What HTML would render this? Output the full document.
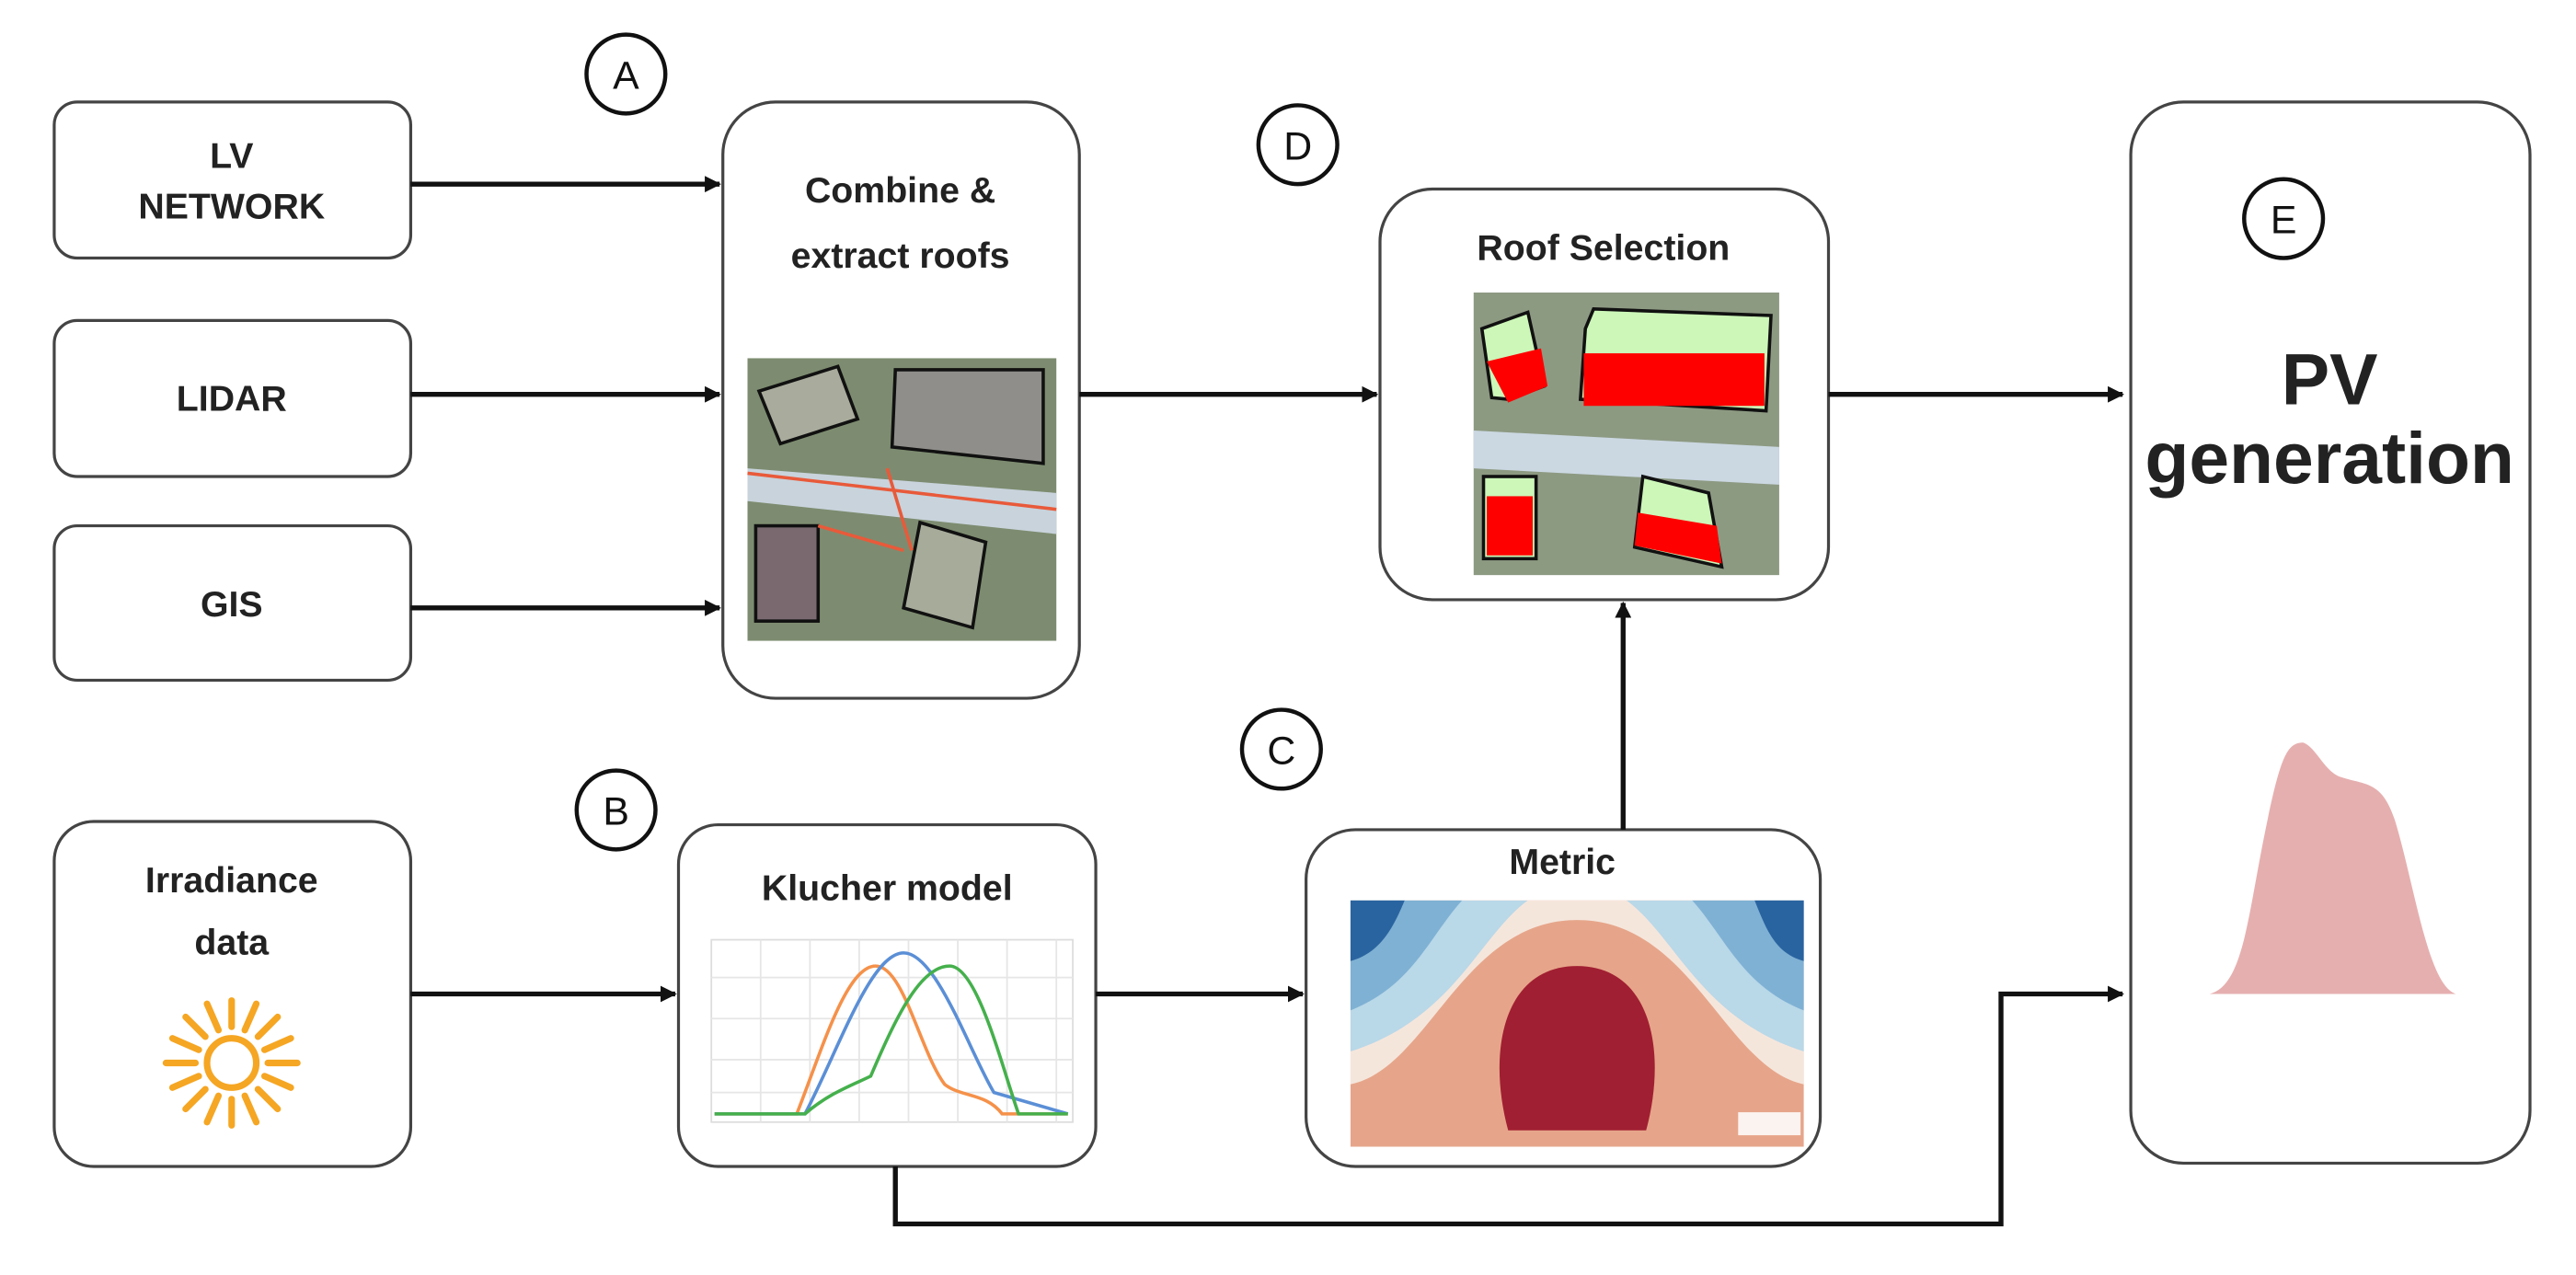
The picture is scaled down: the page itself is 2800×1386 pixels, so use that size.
<!DOCTYPE html>
<html><head><meta charset="utf-8"><style>html,body{margin:0;padding:0;background:#fff}svg{display:block}</style></head>
<body>
<svg width="2800" height="1386" viewBox="0 0 1568 776" xmlns="http://www.w3.org/2000/svg" font-family="'Liberation Sans', 'DejaVu Sans', sans-serif">
<defs>
<marker id="ar" markerWidth="10" markerHeight="10" refX="9" refY="5" orient="auto" markerUnits="userSpaceOnUse"><path d="M0,0 L10,5 L0,10 z" fill="#111"/></marker>
</defs>
<g fill="#fff" stroke="#444" stroke-width="1.8">
<rect x="33" y="62" width="217" height="95" rx="14"/>
<rect x="33" y="195" width="217" height="95" rx="14"/>
<rect x="33" y="320" width="217" height="94" rx="14"/>
<rect x="440" y="62" width="217" height="363" rx="32"/>
<rect x="840" y="115" width="273" height="250" rx="32"/>
<rect x="1297" y="62" width="243" height="646" rx="32"/>
<rect x="33" y="500" width="217" height="210" rx="24"/>
<rect x="413" y="502" width="254" height="208" rx="24"/>
<rect x="795" y="505" width="313" height="205" rx="30"/>
</g>
<g fill="#fff" stroke="#111" stroke-width="2.5">
<circle cx="381" cy="45" r="24"/><circle cx="790" cy="88" r="24"/><circle cx="1390" cy="133" r="24"/>
<circle cx="780" cy="456" r="24"/><circle cx="375" cy="493" r="24"/>
</g>
<g font-size="24" text-anchor="middle" fill="#111">
<text x="381" y="54">A</text><text x="790" y="97">D</text><text x="1390" y="142">E</text>
<text x="780" y="465">C</text><text x="375" y="502">B</text>
</g>
<g font-size="22" text-anchor="middle" fill="#222" font-weight="bold">
<text x="141" y="102">LV</text><text x="141" y="133">NETWORK</text>
<text x="141" y="250">LIDAR</text>
<text x="141" y="375">GIS</text>
<text x="548" y="123">Combine &amp;</text><text x="548" y="163">extract roofs</text>
<text x="976" y="158">Roof Selection</text>
<text x="141" y="543">Irradiance</text><text x="141" y="581">data</text>
<text x="540" y="548">Klucher model</text>
<text x="951" y="532">Metric</text>
</g>
<g font-size="44" text-anchor="middle" fill="#222" font-weight="bold">
<text x="1418" y="246">PV</text><text x="1418" y="294">generation</text>
</g>
<g stroke="#111" stroke-width="3" fill="none" marker-end="url(#ar)">
<line x1="250" y1="112" x2="438" y2="112"/>
<line x1="250" y1="240" x2="438" y2="240"/>
<line x1="250" y1="370" x2="438" y2="370"/>
<line x1="657" y1="240" x2="838" y2="240"/>
<line x1="1113" y1="240" x2="1292" y2="240"/>
<line x1="250" y1="605" x2="411" y2="605"/>
<line x1="667" y1="605" x2="793" y2="605"/>
<line x1="988" y1="505" x2="988" y2="367"/>
<polyline points="545,710 545,745 1218,745 1218,605 1292,605"/>
</g>
<!-- combine image -->
<g>
<rect x="455" y="218" width="188" height="172" fill="#7d8c70"/>
<polygon points="455,285 643,300 643,325 455,305" fill="#c8d3dc"/>
<polygon points="462,238 510,223 522,255 475,270" fill="#a9ab9c" stroke="#111" stroke-width="2"/>
<polygon points="545,225 635,225 635,282 543,272" fill="#8f8e8a" stroke="#111" stroke-width="2"/>
<rect x="460" y="320" width="38" height="58" fill="#7a6a70" stroke="#111" stroke-width="2"/>
<polygon points="560,318 600,330 592,382 550,370" fill="#a7ab9a" stroke="#111" stroke-width="2"/>
<line x1="455" y1="288" x2="643" y2="310" stroke="#e85a3a" stroke-width="2"/>
<line x1="540" y1="285" x2="555" y2="335" stroke="#e85a3a" stroke-width="2"/>
<line x1="498" y1="320" x2="550" y2="335" stroke="#e85a3a" stroke-width="2"/>
</g>
<!-- roof selection image -->
<g>
<rect x="897" y="178" width="186" height="172" fill="#8d9a82"/>
<polygon points="897,262 1083,272 1083,295 897,285" fill="#cbd8e2"/>
<polygon points="902,200 930,190 940,235 918,243 908,242" fill="#ccf7b8" stroke="#111" stroke-width="2"/>
<polygon points="905,220 938,212 942,235 918,245" fill="#f00"/>
<polygon points="965,200 970,188 1078,192 1075,250 962,243" fill="#ccf7b8" stroke="#111" stroke-width="2"/>
<rect x="964" y="215" width="110" height="32" fill="#f00"/>
<rect x="903" y="290" width="32" height="50" fill="#ccf7b8" stroke="#111" stroke-width="2"/>
<rect x="905" y="302" width="28" height="36" fill="#f00"/>
<polygon points="1000,290 1040,300 1048,345 995,333" fill="#ccf7b8" stroke="#111" stroke-width="2"/>
<polygon points="997,312 1045,320 1048,343 995,332" fill="#f00"/>
</g>
<!-- klucher chart -->
<g>
<rect x="433" y="572" width="220" height="111" fill="#fff" stroke="#ddd"/>
<g stroke="#e6e6e6" stroke-width="1">
<line x1="463" y1="572" x2="463" y2="683"/><line x1="493" y1="572" x2="493" y2="683"/><line x1="523" y1="572" x2="523" y2="683"/><line x1="553" y1="572" x2="553" y2="683"/><line x1="583" y1="572" x2="583" y2="683"/><line x1="613" y1="572" x2="613" y2="683"/><line x1="643" y1="572" x2="643" y2="683"/>
<line x1="433" y1="595" x2="653" y2="595"/><line x1="433" y1="620" x2="653" y2="620"/><line x1="433" y1="645" x2="653" y2="645"/><line x1="433" y1="665" x2="653" y2="665"/>
</g>
<path d="M435,678 L485,678 C500,640 515,588 533,588 C550,588 560,640 575,660 C585,668 600,665 610,678 L650,678" fill="none" stroke="#f5914a" stroke-width="2"/>
<path d="M435,678 L490,678 C510,640 530,580 550,580 C570,580 590,640 605,665 L650,678" fill="none" stroke="#5b8fd6" stroke-width="2"/>
<path d="M435,678 L490,678 C505,665 520,660 530,655 C545,620 560,588 578,588 C595,588 610,650 620,678 L650,678" fill="none" stroke="#45b04c" stroke-width="2"/>
</g>
<!-- metric contour -->
<g>
<clipPath id="mc"><rect x="822" y="548" width="276" height="150"/></clipPath>
<g clip-path="url(#mc)">
<rect x="822" y="548" width="276" height="150" fill="#e6a58a"/>
<path d="M822,548 L1098,548 L1098,660 C1050,650 1030,560 960,560 C890,560 870,650 822,660 Z" fill="#f5e6dc"/>
<path d="M822,548 L930,548 C900,570 885,620 822,640 Z" fill="#b9d8e8"/>
<path d="M1098,548 L990,548 C1020,570 1035,620 1098,640 Z" fill="#b9d8e8"/>
<path d="M822,548 L890,548 C870,570 860,600 822,615 Z" fill="#7fb1d4"/>
<path d="M1098,548 L1030,548 C1050,570 1060,600 1098,615 Z" fill="#7fb1d4"/>
<path d="M822,548 L855,548 C848,565 840,580 822,585 Z" fill="#2a64a0"/>
<path d="M1098,548 L1068,548 C1075,565 1080,580 1098,585 Z" fill="#2a64a0"/>
<path d="M900,690 C890,640 895,560 960,560 C1010,560 1030,600 1030,640 C1030,680 1020,690 1000,692 Z" fill="#e8b09a" opacity="0"/>
<path d="M918,688 C905,640 915,588 960,588 C1005,588 1015,640 1002,688 Z" fill="#a11f32"/>
<rect x="1058" y="677" width="38" height="14" fill="#fbf3ef"/>
</g>
</g>
<!-- sun -->
<g stroke="#f5a623" stroke-width="4" fill="none" stroke-linecap="round">
<circle cx="141" cy="647" r="15"/>
<g transform="translate(141,647)">
<line x1="22" y1="0" x2="40" y2="0"/><line x1="-22" y1="0" x2="-40" y2="0"/>
<line x1="0" y1="22" x2="0" y2="38"/><line x1="0" y1="-22" x2="0" y2="-38"/>
<line x1="16" y1="16" x2="28" y2="28"/><line x1="-16" y1="16" x2="-28" y2="28"/><line x1="16" y1="-16" x2="28" y2="-28"/><line x1="-16" y1="-16" x2="-28" y2="-28"/>
<line x1="20" y1="8" x2="36" y2="15"/><line x1="-20" y1="8" x2="-36" y2="15"/><line x1="20" y1="-8" x2="36" y2="-15"/><line x1="-20" y1="-8" x2="-36" y2="-15"/>
<line x1="8" y1="20" x2="15" y2="36"/><line x1="-8" y1="20" x2="-15" y2="36"/><line x1="8" y1="-20" x2="15" y2="-36"/><line x1="-8" y1="-20" x2="-15" y2="-36"/>
</g>
</g>
<!-- pv curve -->
<path d="M1345,605 C1365,600 1368,560 1378,510 C1388,460 1392,452 1402,452 C1410,455 1415,470 1425,473 C1440,478 1450,475 1458,500 C1470,540 1478,600 1495,605 Z" fill="#e6afaf"/>
</svg>
</body></html>
